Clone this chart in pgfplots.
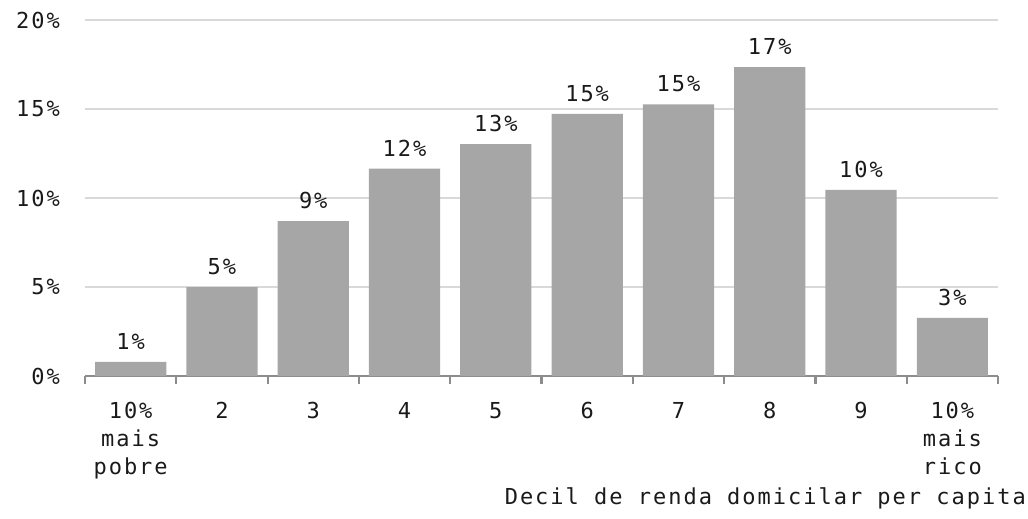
\documentclass[border=0pt]{standalone}
\usepackage{pgfplots}
\pgfplotsset{compat=1.18}
\usepackage{fontspec}
\setmainfont{DejaVu Sans Mono}[LetterSpace=9]
\definecolor{barc}{HTML}{A6A6A6}
\definecolor{gridc}{HTML}{D9D9D9}
\definecolor{axc}{HTML}{8C8C8C}
\definecolor{txt}{HTML}{1A1A1A}
\begin{document}
\begin{tikzpicture}
\useasboundingbox (-85bp,-143bp) rectangle (943bp,376bp);
\begin{axis}[
  scale only axis,
  width=913bp, height=356bp,
  at={(0,0)}, anchor=south west,
  xmin=-0.5, xmax=9.5,
  ymin=0, ymax=20,
  /pgf/number format/assume math mode=true,
  ytick={0,5,10,15,20},
  yticklabels={0\%,5\%,10\%,15\%,20\%},
  ymajorgrids,
  grid style={draw=gridc, line width=1.3bp},
  axis lines*=left,
  y axis line style={draw=none},
  x axis line style={draw=axc, line width=2bp, -},
  xtick={0,...,9},
  xticklabels={{10\%\\mais\\pobre},2,3,4,5,6,7,8,9,{10\%\\mais\\rico}},
  minor xtick={-0.5,0.5,...,9.5},
  tick align=outside,
  major tick length=0pt,
  minor tick length=8bp,
  minor x tick style={draw=axc, line width=2.2bp},
  major tick style={draw=none},
  xticklabel style={align=center, anchor=north, inner sep=0pt, yshift=-26bp, font=\fontsize{22bp}{28bp}\selectfont, text=txt},
  yticklabel style={anchor=east, inner sep=0pt, xshift=-25bp, font=\fontsize{22bp}{24bp}\selectfont, text=txt},
  ybar, bar width=0.78,
  nodes near coords={\pgfmathprintnumber[fixed, precision=0]{\pgfplotspointmeta}\%},
  nodes near coords style={anchor=south, inner sep=0pt, yshift=12bp, font=\fontsize{22bp}{24bp}\selectfont, text=txt},
  clip=false,
]
\addplot[fill=barc, draw=none] coordinates {
  (0,0.8) (1,5.0) (2,8.7) (3,11.65) (4,13.02) (5,14.73) (6,15.26) (7,17.35) (8,10.45) (9,3.26)
};
\end{axis}
\node[anchor=east, inner sep=0pt, font=\fontsize{22bp}{24bp}\selectfont, text=txt] at (941bp,-122bp) {Decil de renda domicilar per capita};
\end{tikzpicture}
\end{document}
